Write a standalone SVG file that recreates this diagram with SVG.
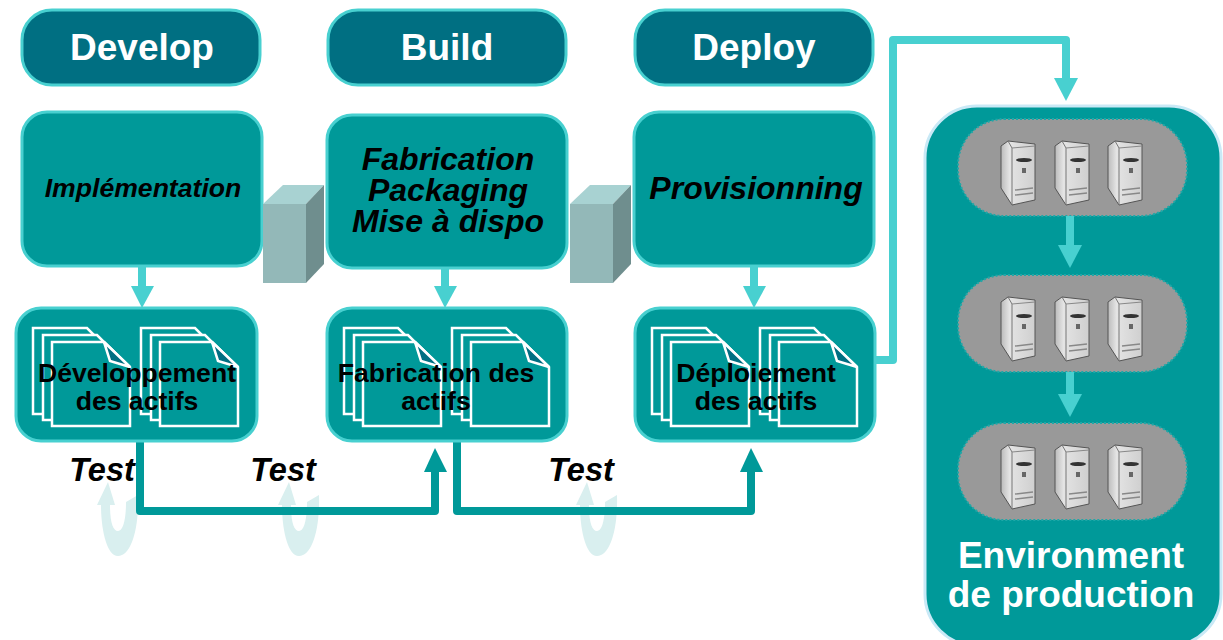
<svg xmlns="http://www.w3.org/2000/svg" xmlns:xlink="http://www.w3.org/1999/xlink" width="1223" height="640" viewBox="0 0 1223 640">
<style>
text{font-family:"Liberation Sans",Arial,sans-serif;font-weight:bold;text-anchor:middle}
.hdr{fill:#006f82;stroke:#48d0d0;stroke-width:3}
.box{fill:#009999;stroke:#48d0d0;stroke-width:3}
.ht{font-size:37px;fill:#fff}
.bt{font-style:italic;fill:#000}
.dt{font-size:26.600px;fill:#000}
.test{font-size:32.500px;font-style:italic;fill:#000}
.doc{fill:#009999;stroke:#fff;stroke-width:2.5}
.fold{fill:#006f82;stroke:#fff;stroke-width:2.5}
.pill{fill:#999;stroke:#1fa8a8;stroke-width:2;stroke-dasharray:2 2}
.lt{fill:none;stroke:#48d0d0;stroke-width:8;stroke-linejoin:round}
.dk{fill:none;stroke:#009999;stroke-width:8;stroke-linejoin:round}
.lh{fill:#48d0d0}
.dh{fill:#009999}
.u{fill:#d9efef}
.et{font-size:37px;fill:#fff}
</style>
<defs>
<g id="stack">
<path class="doc" d="M0 0H54L80 26V86H0Z"/>
<path class="doc" d="M10 7H64L90 33V92H10Z"/>
<path class="doc" d="M19 14H71L97 39V98H19Z"/>
<path class="fold" d="M71 14L97 39L77 33Z"/>
</g>
<g id="docs"><use xlink:href="#stack" href="#stack"/><use xlink:href="#stack" href="#stack" x="108"/></g>
<linearGradient id="sg" x1="0" x2="1" y1="0" y2="0"><stop offset="0" stop-color="#bbb"/><stop offset=".25" stop-color="#e4e4e4"/><stop offset="1" stop-color="#cfcfcf"/></linearGradient>
<g id="server">
<path d="M0 6L7 1L34 4V60L11 65L0 48Z" fill="url(#sg)" stroke="#555" stroke-width="1"/>
<path d="M7 1L11 8V65" fill="none" stroke="#777" stroke-width="1"/>
<path d="M11 8L34 6" fill="none" stroke="#888" stroke-width="1"/>
<ellipse cx="23" cy="20" rx="8" ry="2" fill="#333"/>
<path d="M14 50L32 48M14 55L32 53" stroke="#888" stroke-width="1.500" fill="none"/>
<rect x="21" y="28" width="4" height="5" fill="#666"/>
</g>
<g id="servers"><use xlink:href="#server" href="#server" x="1001"/><use xlink:href="#server" href="#server" x="1055"/><use xlink:href="#server" href="#server" x="1108"/></g>
<path id="u" class="u" d="M108 482L115 505H110C110 522 113 531 118 531C123 531 126 520 126 502L138 495C139 530 131 556 118 556C107 556 101 530 101 505H97Z"/>
</defs>

<g id="test-loops">
<use xlink:href="#u" href="#u"/>
<use xlink:href="#u" href="#u" x="181"/>
<use xlink:href="#u" href="#u" x="479"/>
</g>

<g id="connectors">
<path class="lt" d="M142 266V288"/><path class="lh" d="M131 286H154L142 308Z"/>
<path class="lt" d="M445 268V288"/><path class="lh" d="M434 286H457L445 308Z"/>
<path class="lt" d="M754 266V288"/><path class="lh" d="M743 286H766L754 308Z"/>
<path class="lt" d="M875 360H893V40H1066V80"/><path class="lh" d="M1054 78H1078L1066 101Z"/>
<path class="dk" d="M140 441V511H435V470"/><path class="dh" d="M424 472H447L435 448Z"/>
<path class="dk" d="M457 441V511H751V470"/><path class="dh" d="M740 472H763L751 448Z"/>
</g>

<g id="develop"><rect class="hdr" x="22" y="10" width="238" height="75" rx="30"/><text class="ht" x="142" y="60">Develop</text></g>
<g id="build"><rect class="hdr" x="328" y="10" width="238" height="75" rx="30"/><text class="ht" x="447" y="60">Build</text></g>
<g id="deploy"><rect class="hdr" x="635" y="10" width="238" height="75" rx="30"/><text class="ht" x="754" y="60">Deploy</text></g>

<g id="implementation"><rect class="box" x="22" y="112" width="240" height="154" rx="25"/><text class="bt" font-size="26.600" x="143" y="197">Implémentation</text></g>
<g id="fabrication"><rect class="box" x="327" y="115" width="240" height="153" rx="25"/><text class="bt" font-size="32" x="448" y="170">Fabrication</text><text class="bt" font-size="32" x="448" y="201">Packaging</text><text class="bt" font-size="32" x="448" y="232">Mise à dispo</text></g>
<g id="provisionning"><rect class="box" x="634" y="112" width="240" height="154" rx="25"/><text class="bt" font-size="32" x="756" y="199">Provisionning</text></g>

<g id="cube1"><path fill="#93b8b8" d="M263 204H306V283H263Z"/><path fill="#a8d2d2" d="M263 204L283 185H324L306 204Z"/><path fill="#6f8e8e" d="M306 204L324 185V264L306 283Z"/></g>
<g id="cube2"><path fill="#93b8b8" d="M570 204H613V283H570Z"/><path fill="#a8d2d2" d="M570 204L590 185H631L613 204Z"/><path fill="#6f8e8e" d="M613 204L631 185V264L613 283Z"/></g>

<g id="dev-actifs"><rect class="box" x="16" y="308" width="241" height="133" rx="25"/><use xlink:href="#docs" href="#docs" x="33" y="328"/><text class="dt" x="137" y="382">Développement</text><text class="dt" x="137" y="410">des actifs</text></g>
<g id="fab-actifs"><rect class="box" x="327" y="308" width="240" height="133" rx="25"/><use xlink:href="#docs" href="#docs" x="344" y="328"/><text class="dt" x="436" y="382">Fabrication des</text><text class="dt" x="436" y="410">actifs</text></g>
<g id="dep-actifs"><rect class="box" x="635" y="308" width="240" height="133" rx="25"/><use xlink:href="#docs" href="#docs" x="652" y="328"/><text class="dt" x="756" y="382">Déploiement</text><text class="dt" x="756" y="410">des actifs</text></g>

<g id="test-labels">
<text class="test" x="102" y="481">Test</text>
<text class="test" x="283" y="481">Test</text>
<text class="test" x="581" y="481">Test</text>
</g>

<g id="environment">
<rect x="925" y="106" width="296" height="540" rx="52" fill="#009999" stroke="#c9e9f6" stroke-width="3"/>
<g id="tier1"><rect class="pill" x="958" y="119" width="229" height="97" rx="46"/><use xlink:href="#servers" href="#servers" y="140"/></g>
<g id="tier2"><rect class="pill" x="958" y="275" width="229" height="97" rx="46"/><use xlink:href="#servers" href="#servers" y="296"/></g>
<g id="tier3"><rect class="pill" x="958" y="423" width="229" height="97" rx="46"/><use xlink:href="#servers" href="#servers" y="444"/></g>
<g id="env-arrows">
<path class="lt" d="M1070 216V247"/><path class="lh" d="M1058 245H1082L1070 268Z"/>
<path class="lt" d="M1070 372V396"/><path class="lh" d="M1058 394H1082L1070 417Z"/>
</g>
<text class="et" x="1071" y="568">Environment</text>
<text class="et" x="1071" y="607">de production</text>
</g>
</svg>
